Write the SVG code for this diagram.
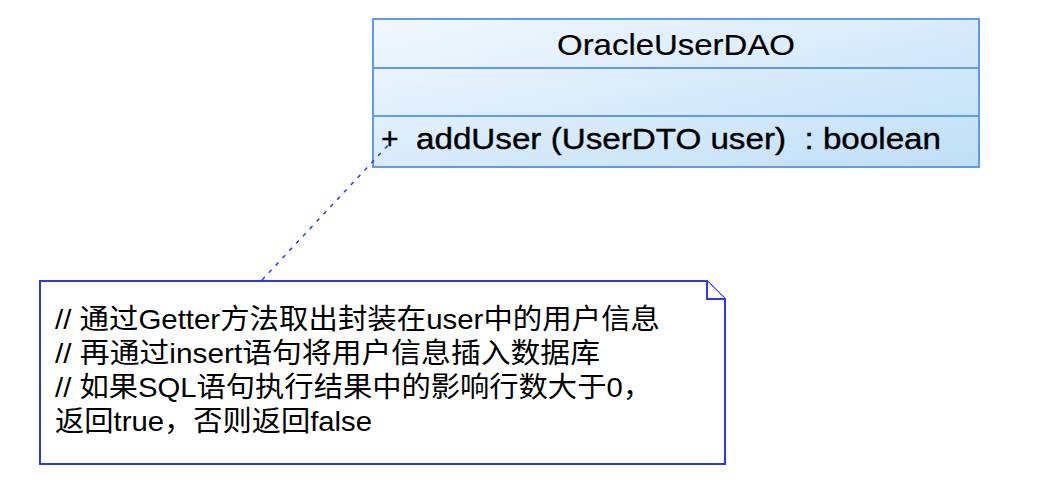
<svg xmlns="http://www.w3.org/2000/svg" width="1044" height="490" viewBox="0 0 1044 490">
<defs>
<linearGradient id="cls" x1="0" y1="0" x2="1" y2="1">
<stop offset="0" stop-color="#f2f8fe"/>
<stop offset="1" stop-color="#bfdff7"/>
</linearGradient>
<style>
.t{font-family:"Liberation Sans",Arial,"Noto Sans CJK SC",sans-serif;fill:#000}
.cb{fill:url(#cls);stroke:#5f9cf0;stroke-width:2}
.cd{stroke:#5f9cf0;stroke-width:2;fill:none}
.nb{fill:#fff;stroke:#2a3cf0;stroke-width:2}
.conn{stroke:#2a3cf0;stroke-width:1.5;stroke-dasharray:4 6;fill:none}
</style>
</defs>
<rect width="1044" height="490" fill="#fff"/>
<g id="OracleUserDAO">
<rect class="cb" x="373" y="19" width="606" height="148"/>
<line class="cd" x1="373" y1="68" x2="979" y2="68"/>
<line class="cd" x1="373" y1="116" x2="979" y2="116"/>
<text class="t" x="557" y="55" font-size="30" textLength="238" lengthAdjust="spacingAndGlyphs" stroke="#000" stroke-width="0.2">OracleUserDAO</text>
<text class="t" x="381" y="149" font-size="30" stroke="#000" stroke-width="0.4">+</text>
<text class="t" x="416" y="149" font-size="30" textLength="525" lengthAdjust="spacingAndGlyphs" stroke="#000" stroke-width="0.4" xml:space="preserve">addUser (UserDTO user)  : boolean</text>
</g>
<g id="note">
<path class="nb" d="M40 281 H707 L725 299 V464 H40 Z"/>
<path class="nb" d="M707 281 V299 H725" fill="none"/>
<text class="t" font-size="28">
<tspan x="55" y="329" textLength="605" lengthAdjust="spacingAndGlyphs">// 通过Getter方法取出封装在user中的用户信息</tspan>
<tspan x="55" y="363" textLength="545" lengthAdjust="spacingAndGlyphs">// 再通过insert语句将用户信息插入数据库</tspan>
<tspan x="55" y="397" textLength="597" lengthAdjust="spacingAndGlyphs">// 如果SQL语句执行结果中的影响行数大于0，</tspan>
<tspan x="55" y="431" textLength="317" lengthAdjust="spacingAndGlyphs">返回true，否则返回false</tspan>
</text>
</g>
<g id="connectors">
<line class="conn" x1="262" y1="280" x2="392" y2="141"/>
</g>
</svg>
